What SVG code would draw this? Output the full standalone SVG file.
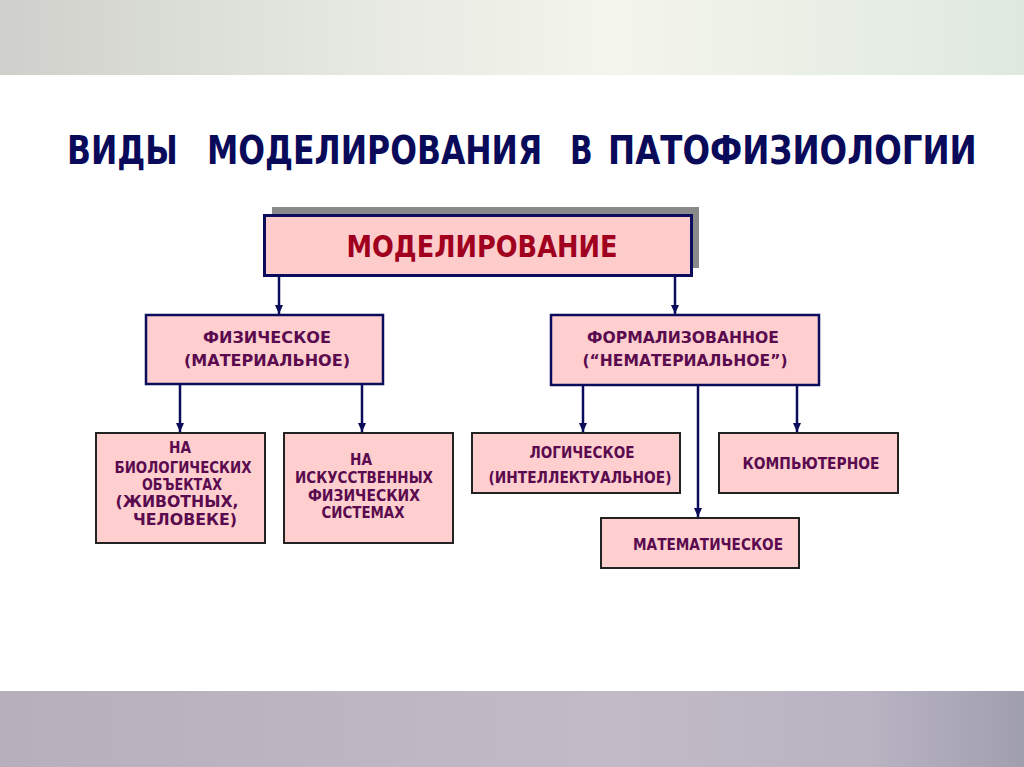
<svg xmlns="http://www.w3.org/2000/svg" width="1024" height="767" viewBox="0 0 1024 767">
<defs>
<linearGradient id="topg" x1="0" y1="0" x2="1" y2="0">
<stop offset="0" stop-color="#cfd0cb"/>
<stop offset="0.35" stop-color="#e6e9e2"/>
<stop offset="0.6" stop-color="#f4f5ec"/>
<stop offset="1" stop-color="#dfe9e0"/>
</linearGradient>
<linearGradient id="botg" x1="0" y1="0" x2="1" y2="0">
<stop offset="0" stop-color="#b8afbc"/>
<stop offset="0.6" stop-color="#c2bac6"/>
<stop offset="0.85" stop-color="#b9b3c2"/>
<stop offset="1" stop-color="#a09fb0"/>
</linearGradient>
<marker id="ah" markerWidth="10" markerHeight="10" refX="9" refY="5" orient="auto" markerUnits="userSpaceOnUse" viewBox="0 0 10 10">
<path d="M0,1 L9,5 L0,9 Z" fill="#0c0c5c"/>
</marker>
<style>
.box{fill:#ffcfcf;stroke:#0c0c5c;stroke-width:2.5}
.box2{fill:#ffcfcf;stroke:#222;stroke-width:2}
.t{font-family:"DejaVu Sans","Liberation Sans",sans-serif;font-weight:bold;fill:#5a0a4e;text-anchor:middle;font-size:15px}
.h{font-family:"DejaVu Sans","Liberation Sans",sans-serif;font-weight:bold;fill:#0a0a5a;font-size:39px}
.c{fill:none;stroke:#0c0c5c;stroke-width:2.5}
</style>
</defs>
<rect x="0" y="0" width="1024" height="767" fill="#ffffff"/>
<rect x="0" y="0" width="1024" height="75" fill="url(#topg)"/>
<rect x="0" y="691" width="1024" height="76" fill="url(#botg)"/>

<g id="title">
<text class="h" transform="translate(67,164) scale(0.84,1)" x="0" y="0" textLength="132" lengthAdjust="spacingAndGlyphs">ВИДЫ</text>
<text class="h" transform="translate(207,164) scale(0.84,1)" x="0" y="0" textLength="399" lengthAdjust="spacingAndGlyphs">МОДЕЛИРОВАНИЯ</text>
<text class="h" transform="translate(570,164) scale(0.84,1)" x="0" y="0" textLength="27" lengthAdjust="spacingAndGlyphs">В</text>
<text class="h" transform="translate(608,164) scale(0.84,1)" x="0" y="0" textLength="439" lengthAdjust="spacingAndGlyphs">ПАТОФИЗИОЛОГИИ</text>
</g>

<g id="connectors">
<line class="c" x1="279" y1="276" x2="279" y2="314" marker-end="url(#ah)"/>
<line class="c" x1="675" y1="276" x2="675" y2="314" marker-end="url(#ah)"/>
<line class="c" x1="180" y1="385" x2="180" y2="432" marker-end="url(#ah)"/>
<line class="c" x1="362" y1="385" x2="362" y2="432" marker-end="url(#ah)"/>
<line class="c" x1="583" y1="386" x2="583" y2="432" marker-end="url(#ah)"/>
<line class="c" x1="698" y1="386" x2="698" y2="517" marker-end="url(#ah)"/>
<line class="c" x1="797" y1="386" x2="797" y2="432" marker-end="url(#ah)"/>
</g>

<g id="root">
<rect x="272" y="207" width="427" height="61" fill="#8a8a8a"/>
<rect x="264.5" y="215.5" width="427" height="60" fill="#ffcccc" stroke="#0c0c5c" stroke-width="3"/>
<text x="482" y="257" font-family="DejaVu Sans, Liberation Sans, sans-serif" font-weight="bold" font-size="30" fill="#a0001e" text-anchor="middle" textLength="271" lengthAdjust="spacingAndGlyphs">МОДЕЛИРОВАНИЕ</text>
</g>

<g id="physical">
<rect class="box" x="146" y="315" width="237" height="69"/>
<text class="t" x="267" y="343" textLength="128" lengthAdjust="spacingAndGlyphs">ФИЗИЧЕСКОЕ</text>
<text class="t" x="267" y="366" textLength="166" lengthAdjust="spacingAndGlyphs">(МАТЕРИАЛЬНОЕ)</text>
</g>

<g id="formal">
<rect class="box" x="551" y="315" width="268" height="70"/>
<text class="t" x="683" y="343" textLength="192" lengthAdjust="spacingAndGlyphs">ФОРМАЛИЗОВАННОЕ</text>
<text class="t" x="685" y="366" textLength="205" lengthAdjust="spacingAndGlyphs">(“НЕМАТЕРИАЛЬНОЕ”)</text>
</g>

<g id="bio">
<rect class="box2" x="96" y="433" width="169" height="110"/>
<text class="t" x="180" y="453" textLength="22" lengthAdjust="spacingAndGlyphs">НА</text>
<text class="t" x="183" y="473" textLength="137" lengthAdjust="spacingAndGlyphs">БИОЛОГИЧЕСКИХ</text>
<text class="t" x="182" y="490" textLength="80" lengthAdjust="spacingAndGlyphs">ОБЪЕКТАХ</text>
<text class="t" x="177" y="507" textLength="123" lengthAdjust="spacingAndGlyphs">(ЖИВОТНЫХ,</text>
<text class="t" x="185" y="525" textLength="104" lengthAdjust="spacingAndGlyphs">ЧЕЛОВЕКЕ)</text>
</g>

<g id="artificial">
<rect class="box2" x="284" y="433" width="169" height="110"/>
<text class="t" x="361" y="465" textLength="22" lengthAdjust="spacingAndGlyphs">НА</text>
<text class="t" x="364" y="483" textLength="138" lengthAdjust="spacingAndGlyphs">ИСКУССТВЕННЫХ</text>
<text class="t" x="364" y="501" textLength="112" lengthAdjust="spacingAndGlyphs">ФИЗИЧЕСКИХ</text>
<text class="t" x="363" y="518" textLength="83" lengthAdjust="spacingAndGlyphs">СИСТЕМАХ</text>
</g>

<g id="logical">
<rect class="box2" x="472" y="433" width="208" height="60"/>
<text class="t" x="582" y="458" textLength="105" lengthAdjust="spacingAndGlyphs">ЛОГИЧЕСКОЕ</text>
<text class="t" x="580" y="483" textLength="183" lengthAdjust="spacingAndGlyphs">(ИНТЕЛЛЕКТУАЛЬНОЕ)</text>
</g>

<g id="computer">
<rect class="box2" x="719" y="433" width="179" height="60"/>
<text class="t" x="811" y="469" textLength="137" lengthAdjust="spacingAndGlyphs">КОМПЬЮТЕРНОЕ</text>
</g>

<g id="math">
<rect class="box2" x="601" y="518" width="198" height="50"/>
<text class="t" x="708" y="550" textLength="150" lengthAdjust="spacingAndGlyphs">МАТЕМАТИЧЕСКОЕ</text>
</g>
</svg>
